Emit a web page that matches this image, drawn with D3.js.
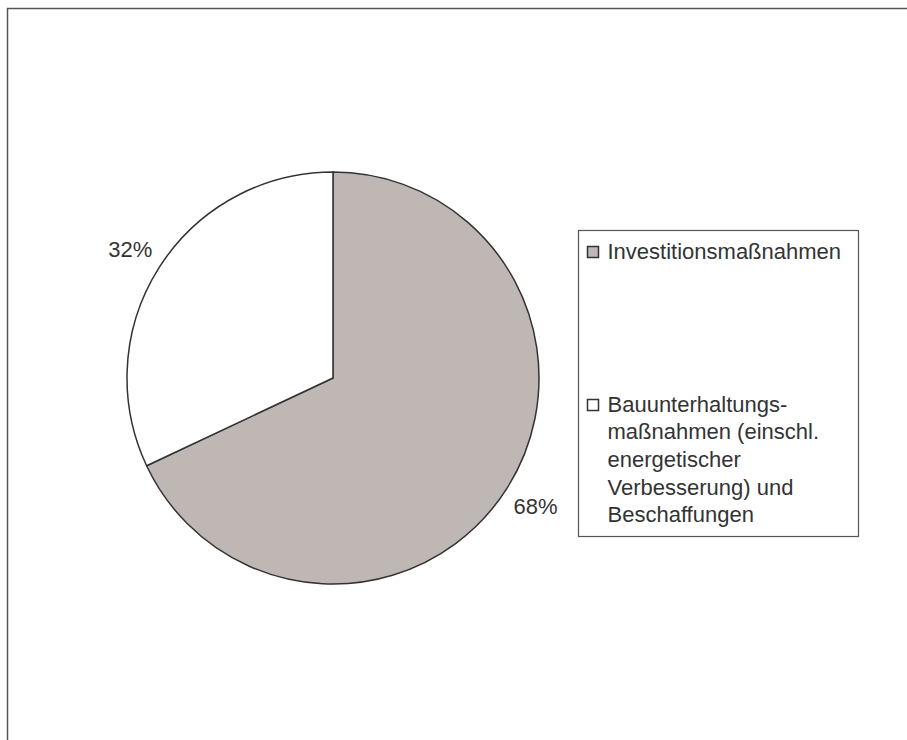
<!DOCTYPE html>
<html>
<head>
<meta charset="utf-8">
<script src="https://cdn.jsdelivr.net/npm/d3@7"></script>
<style>
  body { margin: 0; background: #fff; }
  text { font-family: Arial, "Liberation Sans", sans-serif; fill: #333; }
</style>
</head>
<body>
<svg id="chart" width="907" height="740"></svg>
<script>
// data
var categories = ["Investitionsmaßnahmen", "Bauunterhaltungsmaßnahmen (einschl. energetischer Verbesserung) und Beschaffungen"];
var values = [68, 32];
var labels = ["68%", "32%"];
var legendLines = [
    ["Investitionsmaßnahmen"],
    ["Bauunterhaltungs-", "maßnahmen (einschl.", "energetischer", "Verbesserung) und", "Beschaffungen"]
];
var colors = ["#bfb7b4", "#ffffff"];

var svg = d3.select("#chart");

// outer frame (only top and left edges visible)
svg.append("path")
    .attr("d", "M7.5,740 V8.5 H907")
    .attr("fill", "none")
    .attr("stroke", "#555")
    .attr("stroke-width", 1.5);

var cx = 333, cy = 378, radius = 206;

var pie = d3.pie().sort(null).value(function (d) { return d; });
var arcs = pie(values);

var arc = d3.arc().innerRadius(0).outerRadius(radius);
var labelArc = d3.arc().innerRadius(radius * 1.165).outerRadius(radius * 1.165);

var g = svg.append("g").attr("transform", "translate(" + cx + "," + cy + ")");

g.selectAll("path.slice")
    .data(arcs)
    .enter().append("path")
    .attr("class", "slice")
    .attr("d", arc)
    .attr("fill", function (d, i) { return colors[i]; })
    .attr("stroke", "#333")
    .attr("stroke-width", 1.5)
    .attr("stroke-linejoin", "round");

g.selectAll("text.lbl")
    .data(arcs)
    .enter().append("text")
    .attr("class", "lbl")
    .attr("transform", function (d) {
        var c = labelArc.centroid(d);
        return "translate(" + c[0] + "," + c[1] + ")";
    })
    .attr("text-anchor", "middle")
    .attr("dy", "0.35em")
    .style("font-size", "22px")
    .text(function (d, i) { return labels[i]; });

// legend
var legend = svg.append("g").attr("transform", "translate(578.5,230.5)");

legend.append("rect")
    .attr("width", 280)
    .attr("height", 306)
    .attr("fill", "#fff")
    .attr("stroke", "#555")
    .attr("stroke-width", 1.2);

var itemY = [28, 181];
var lineH = 27.7;

var items = legend.selectAll("g.item")
    .data(categories)
    .enter().append("g")
    .attr("class", "item")
    .attr("transform", function (d, i) { return "translate(0," + itemY[i] + ")"; });

items.append("rect")
    .attr("x", 9)
    .attr("y", -12)
    .attr("width", 11)
    .attr("height", 11)
    .attr("fill", function (d, i) { return colors[i]; })
    .attr("stroke", "#333")
    .attr("stroke-width", 1.5);

items.append("text")
    .style("font-size", "22px")
    .selectAll("tspan")
    .data(function (d, i) { return legendLines[i]; })
    .enter().append("tspan")
    .attr("x", 29)
    .attr("y", function (d, j) { return j * lineH; })
    .text(function (d) { return d; });
</script>
</body>
</html>
